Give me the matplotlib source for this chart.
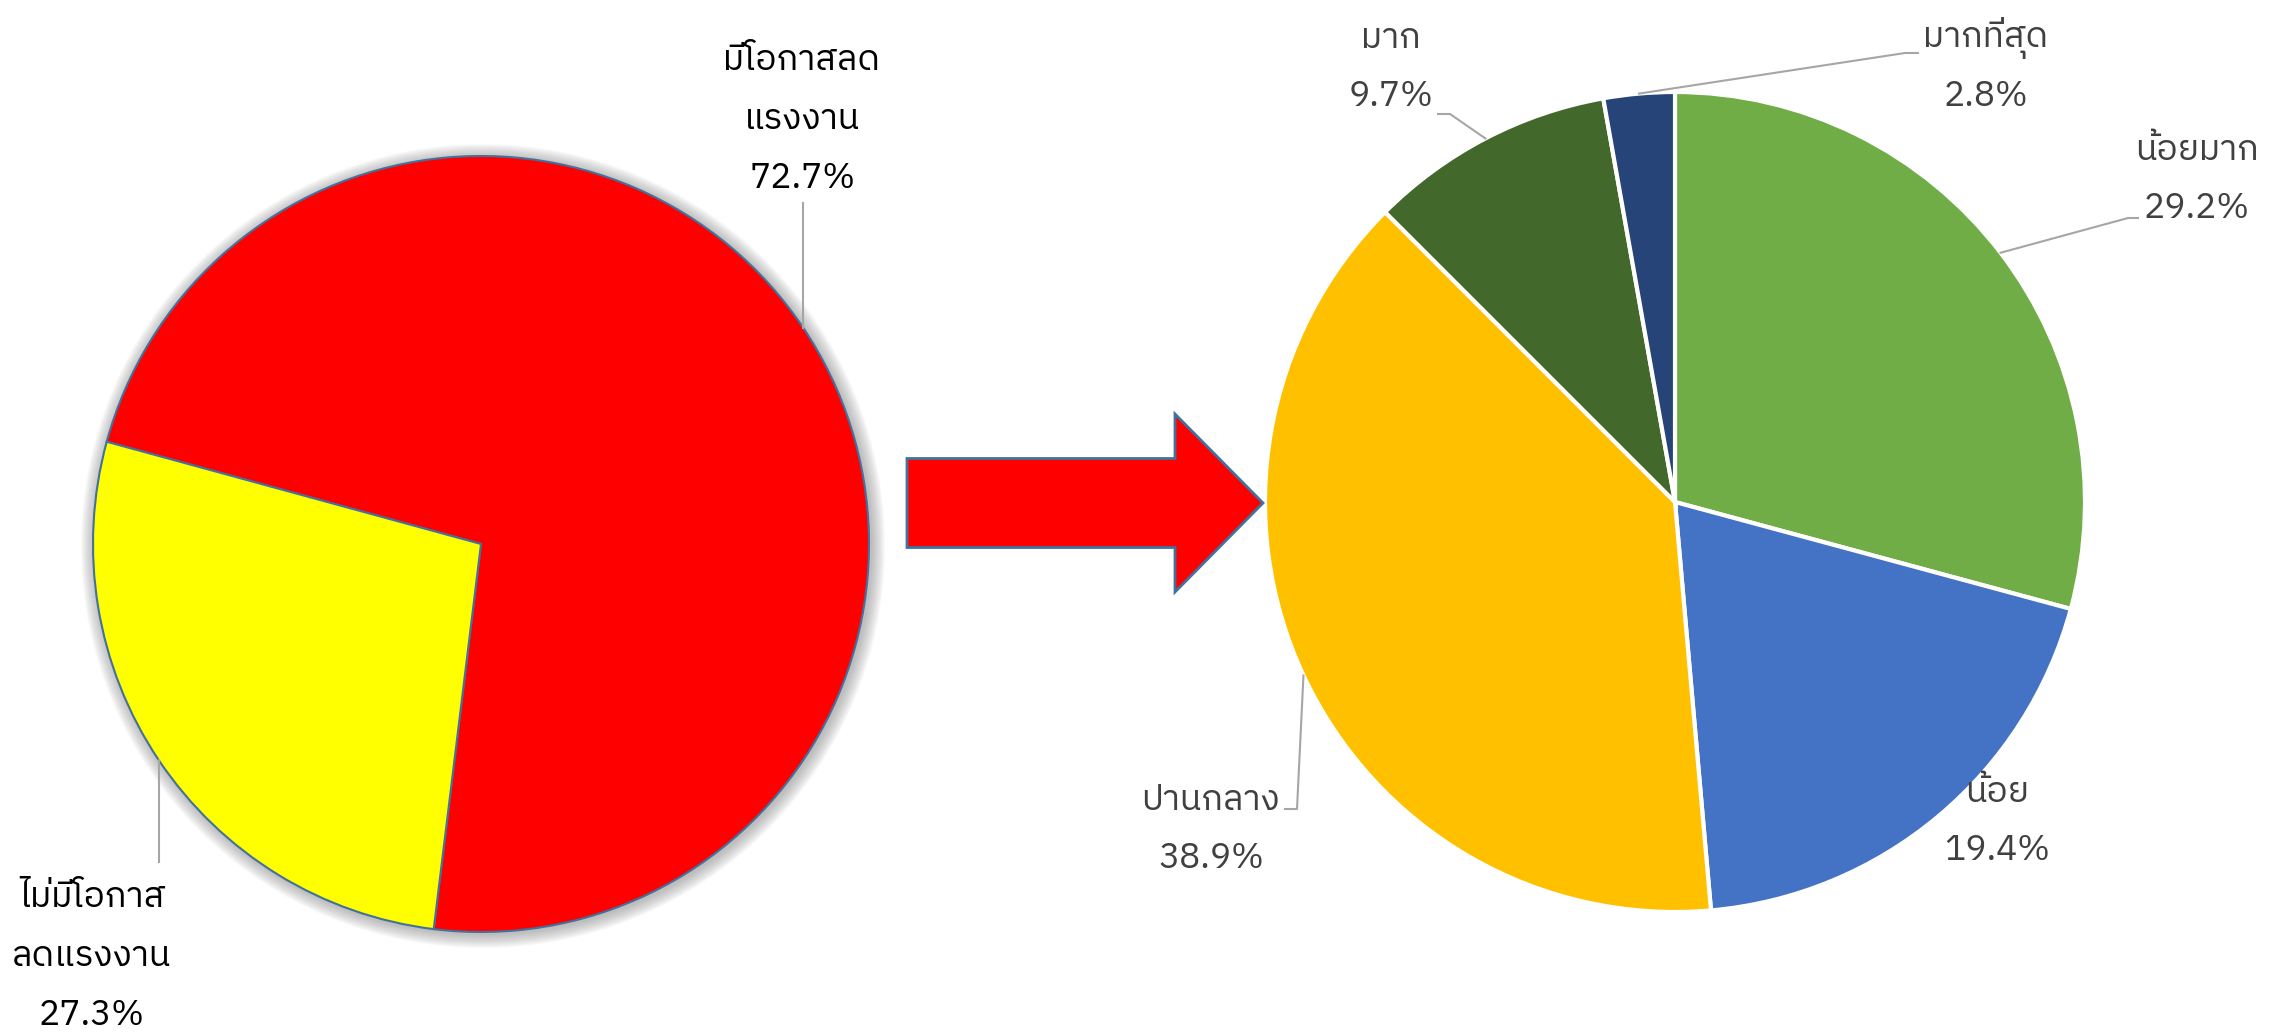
import matplotlib
matplotlib.use('Agg')
import numpy as np
import matplotlib.pyplot as plt
from matplotlib import font_manager
from matplotlib.patches import Circle, FancyArrow
from fontTools.ttLib import TTFont

# data
left_labels = ['มีโอกาสลด\nแรงงาน', 'ไม่มีโอกาส\nลดแรงงาน']
left_values = [72.7, 27.3]
left_colors = ['#FF0000', '#FFFF00']

right_labels = ['น้อยมาก', 'น้อย', 'ปานกลาง', 'มาก', 'มากที่สุด']
right_values = [29.2, 19.4, 38.9, 9.7, 2.8]
right_colors = ['#70AD47', '#4472C4', '#FFC000', '#43682B', '#264478']


def find_thai_font():
    found = []
    for f in font_manager.fontManager.ttflist:
        try:
            cmap = TTFont(f.fname, fontNumber=0, lazy=True).getBestCmap()
        except Exception:
            continue
        if cmap and 0x0E21 in cmap:
            found.append(f.name)
    found = sorted(set(found), key=lambda n: ('Looped' in n, 'Sans' not in n, n))
    return found[0] if found else 'DejaVu Sans'


thai = find_thai_font()
plt.rcParams['font.family'] = [thai, 'DejaVu Sans']

W, H = 2286, 1036
fig = plt.figure(figsize=(W / 100, H / 100), dpi=100)
ax = fig.add_axes([0, 0, 1, 1])


def Y(y):
    # image row -> axes y
    return H - y


# ---- left pie ----
lc = (481, Y(544))
lr = 388
for k in range(1, 15):
    ax.add_patch(Circle((lc[0] + 2, lc[1] - 2), lr + k, color='#7f7f7f',
                        alpha=0.045, lw=0, zorder=0))
lw_, _ = ax.pie(left_values, colors=left_colors, startangle=-97, counterclock=True,
                center=lc, radius=lr,
                wedgeprops=dict(edgecolor='#41719C', linewidth=1.5))

# ---- right pie ----
rc = (1675, Y(502))
rr = 410
rw, _ = ax.pie(right_values, colors=right_colors, startangle=90, counterclock=False,
               center=rc, radius=rr,
               wedgeprops=dict(edgecolor='white', linewidth=3))


def edge_point(w, center, r):
    a = np.deg2rad((w.theta1 + w.theta2) / 2)
    return center[0] + r * np.cos(a), center[1] + r * np.sin(a)


# left labels: vertical leaders
left_text = [(802, 60), (92, 897)]
for w, lab, val, (tx, ty) in zip(lw_, left_labels, left_values, left_text):
    lines = lab.split('\n') + ['%.1f%%' % val]
    for i, s in enumerate(lines):
        ax.text(tx, Y(ty + i * 59), s, ha='center', va='center', fontsize=25.5, color='black')
    ex, ey = edge_point(w, lc, lr)
    if ey > lc[1]:
        ax.plot([ex, ex], [Y(203), ey], color='#A6A6A6', lw=1.5)
    else:
        ax.plot([ex, ex], [Y(862), ey], color='#A6A6A6', lw=1.5)

# right labels
right_text = [(2197, 150), (1997, 792), (1211, 800), (1391, 38), (1986, 38)]
right_elbow = [[(2138, 218), (2128, 218)], None, [(1285, 809), (1297, 809)],
               [(1438, 114), (1450, 114)], [(1918, 53), (1905, 53)]]
for w, lab, val, (tx, ty), elb in zip(rw, right_labels, right_values, right_text, right_elbow):
    ax.text(tx, Y(ty), lab, ha='center', va='center', fontsize=25.5, color='#404040')
    ax.text(tx, Y(ty + 58), '%.1f%%' % val, ha='center', va='center', fontsize=25.5,
            color='#404040')
    if elb:
        ex, ey = edge_point(w, rc, rr)
        xs = [p[0] for p in elb] + [ex]
        ys = [Y(p[1]) for p in elb] + [ey]
        ax.plot(xs, ys, color='#A6A6A6', lw=1.5)

# arrow
ax.add_patch(FancyArrow(907, Y(503), 356, 0, width=89, head_width=178, head_length=88,
                        length_includes_head=True, facecolor='#FF0000',
                        edgecolor='#41719C', linewidth=2))

ax.set_xlim(0, W)
ax.set_ylim(0, H)
ax.set_aspect('equal')
ax.axis('off')
fig.savefig('out.png', dpi=100, facecolor='white')
